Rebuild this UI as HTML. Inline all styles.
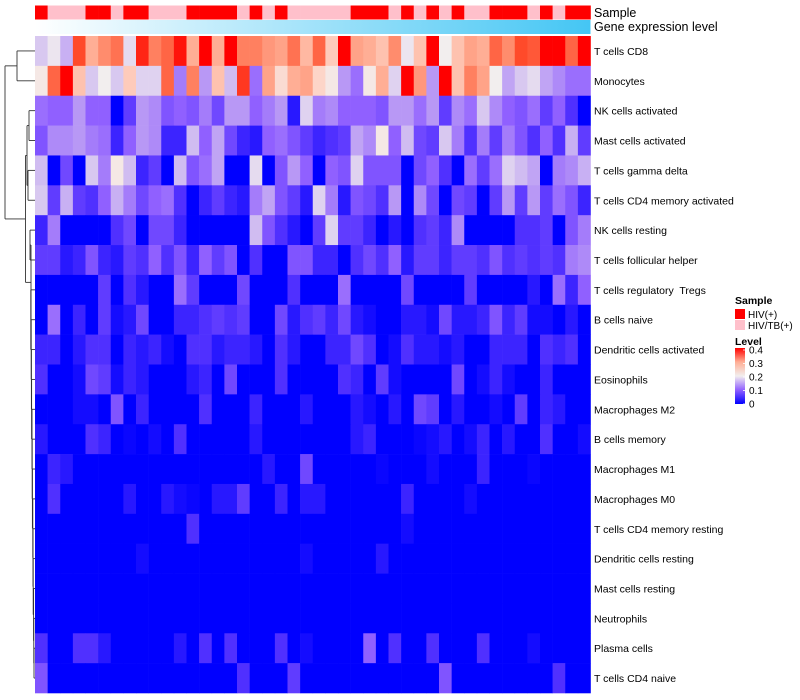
<!DOCTYPE html>
<html><head><meta charset="utf-8"><style>
html,body{margin:0;padding:0;background:#fff;}
svg{display:block;font-family:"Liberation Sans",sans-serif;}
svg text{white-space:pre;}
</style></head><body>
<svg id="chart" width="800" height="700"></svg>
<script>
const rowLabels = ["T cells CD8","Monocytes","NK cells activated","Mast cells activated","T cells gamma delta","T cells CD4 memory activated","NK cells resting","T cells follicular helper","T cells regulatory  Tregs","B cells naive","Dendritic cells activated","Eosinophils","Macrophages M2","B cells memory","Macrophages M1","Macrophages M0","T cells CD4 memory resting","Dendritic cells resting","Mast cells resting","Neutrophils","Plasma cells","T cells CD4 naive"];
const sampleGroups = "RPPPRRPRRPPPRRRRPRPRPPPPPRRRPRPRPRPPRRRPRPRR".split("");
const legendTicks = [0,0.1,0.2,0.3,0.4];
const legendTickLabels = ["0","0.1","0.2","0.3","0.4"];
const values = [
[0.16,0.19,0.14,0.36,0.28,0.31,0.33,0.18,0.38,0.32,0.34,0.39,0.28,0.4,0.28,0.4,0.32,0.32,0.3,0.29,0.33,0.27,0.34,0.25,0.4,0.29,0.28,0.26,0.31,0.19,0.26,0.4,0.2,0.26,0.29,0.28,0.34,0.31,0.36,0.35,0.4,0.4,0.34,0.4],
[0.21,0.34,0.4,0.26,0.16,0.2,0.16,0.25,0.17,0.17,0.34,0.1,0.32,0.12,0.26,0.15,0.37,0.09,0.29,0.23,0.28,0.29,0.24,0.21,0.12,0.09,0.21,0.28,0.17,0.4,0.3,0.12,0.4,0.26,0.32,0.29,0.2,0.13,0.16,0.18,0.13,0.11,0.09,0.09],
[0.09,0.08,0.08,0.12,0.08,0.08,0,0.05,0.12,0.11,0.07,0.08,0.07,0.1,0.06,0.12,0.12,0.08,0.1,0.12,0.02,0.17,0.1,0.11,0.08,0.08,0.08,0.07,0.12,0.12,0.09,0.12,0.05,0.11,0.09,0.16,0.11,0.08,0.07,0.09,0.05,0.08,0.04,0],
[0.07,0.11,0.11,0.12,0.1,0.09,0.03,0.08,0.12,0.11,0.03,0.03,0.15,0.08,0.13,0.06,0.03,0.02,0.08,0.09,0.07,0.05,0.03,0.04,0.05,0.13,0.11,0.21,0.08,0.15,0.06,0.05,0.16,0.1,0.04,0.1,0.05,0.1,0.07,0.04,0.08,0.04,0.14,0.05],
[0.15,0,0.06,0,0.16,0.1,0.21,0.15,0.03,0.05,0,0.15,0.07,0.09,0.13,0,0,0.18,0,0.07,0.12,0.08,0,0.08,0.07,0.17,0.07,0.07,0.07,0,0.06,0.08,0.04,0,0.09,0.05,0.09,0.17,0.15,0.13,0,0.1,0.11,0.14],
[0.16,0.05,0.14,0.05,0.04,0.08,0.14,0.1,0.06,0.08,0.09,0.04,0,0.03,0.05,0.03,0.02,0.1,0.13,0.07,0.05,0.02,0.17,0.1,0.02,0.07,0.06,0.04,0.12,0,0.11,0.06,0,0.06,0.05,0,0.05,0.12,0.05,0.12,0.05,0.09,0.07,0.03],
[0.03,0.1,0,0,0,0,0.04,0.06,0,0.06,0.06,0.03,0,0,0,0,0,0.15,0.07,0.04,0.02,0,0.05,0.17,0.05,0.05,0.03,0,0.02,0,0.04,0.05,0.03,0.11,0,0,0,0,0.04,0.04,0.05,0,0.07,0.1],
[0.05,0.05,0.02,0.03,0.07,0.03,0.02,0.05,0.04,0.08,0.04,0.07,0.03,0.08,0.05,0.07,0,0.04,0,0,0.07,0.07,0.03,0.03,0,0.04,0.06,0.04,0.08,0.02,0.05,0.05,0.03,0.05,0.05,0.04,0.07,0.04,0.05,0.04,0.05,0.04,0.1,0.11],
[0,0,0,0,0,0.05,0,0.04,0.02,0,0,0.09,0.05,0,0,0,0.06,0,0,0,0.04,0,0,0,0.09,0,0,0,0,0.06,0,0,0,0,0.05,0,0,0,0,0.02,0,0.09,0.03,0.08],
[0,0.09,0,0.03,0,0.05,0.01,0.02,0.06,0,0,0.03,0.03,0.04,0.05,0.04,0.05,0,0,0.06,0.02,0.04,0.05,0.03,0.06,0.02,0.01,0,0,0.02,0.02,0.01,0.06,0.02,0.02,0.03,0.07,0.03,0.05,0.01,0.01,0,0.02,0],
[0.03,0.03,0,0.02,0.04,0.04,0,0.03,0.02,0.03,0.01,0,0.04,0.04,0.02,0.03,0.03,0.02,0,0.04,0.02,0,0,0.03,0.03,0.06,0.04,0,0.01,0.04,0.02,0.02,0.01,0.02,0,0,0.03,0.03,0.03,0,0.04,0.03,0.04,0],
[0.04,0,0,0.01,0.06,0.05,0.01,0.03,0.02,0,0,0,0.02,0.03,0,0.06,0,0,0,0.04,0,0,0,0,0.04,0.03,0,0.05,0.01,0,0,0,0,0.06,0,0.01,0.03,0.01,0,0,0.03,0,0,0],
[0,0,0,0.01,0.01,0,0.07,0,0.03,0,0,0,0,0.04,0,0,0,0.03,0,0,0,0.02,0,0,0,0.02,0.01,0,0.02,0,0.06,0.05,0,0.02,0,0,0.01,0,0.05,0,0.03,0.02,0,0],
[0.02,0,0,0,0.04,0.03,0,0.005,0,0.01,0,0.04,0,0,0,0,0,0.02,0,0,0,0,0,0,0,0.02,0.03,0,0,0,0.005,0.01,0.02,0,0.01,0.03,0,0.02,0,0,0.04,0,0,0.01],
[0,0.03,0.02,0,0,0,0,0,0,0,0,0,0,0,0,0,0,0,0.02,0,0,0.06,0,0,0,0,0,0.005,0,0,0,0.01,0,0,0,0.03,0,0,0,0.005,0,0,0,0],
[0,0.04,0,0,0,0,0,0.02,0,0,0.02,0.01,0.005,0,0.02,0.02,0.05,0,0,0.03,0,0.02,0.02,0,0,0,0,0,0,0.03,0,0,0,0,0.01,0,0,0,0,0,0,0,0,0],
[0,0,0,0,0,0,0,0,0,0,0,0,0.04,0,0,0,0,0,0,0,0,0,0,0,0,0,0,0,0,0.01,0,0,0,0,0,0,0,0,0,0,0,0,0,0],
[0,0,0,0,0,0,0,0,0.01,0,0,0,0,0,0,0,0,0,0,0,0,0.01,0,0,0,0,0,0.02,0,0,0,0,0,0,0,0,0,0,0,0,0,0,0,0],
[0,0,0,0,0,0,0,0,0,0,0,0,0,0,0,0,0,0,0,0,0,0,0,0,0,0,0,0,0,0,0,0,0,0,0,0,0,0,0,0,0,0,0,0],
[0,0,0,0,0,0,0,0,0,0,0,0,0,0,0,0,0,0,0,0,0,0,0,0,0,0,0,0,0,0,0,0,0,0,0,0,0,0,0,0,0,0,0,0],
[0.04,0,0,0.04,0.04,0.02,0,0,0,0,0,0.02,0,0.04,0,0.04,0,0,0,0.04,0,0.01,0,0,0,0,0.08,0,0.04,0,0,0.04,0,0,0,0.04,0,0,0,0.01,0,0,0,0],
[0.07,0,0,0,0,0,0,0,0,0,0,0,0,0,0,0,0.04,0,0,0,0.05,0,0,0,0,0,0,0,0,0,0,0,0.07,0,0,0,0,0,0,0,0,0.04,0,0]
];

const NS = "http://www.w3.org/2000/svg";
const svg = document.getElementById("chart");
const X0 = 35, X1 = 590.5, Y0 = 36, Y1 = 693;
const nCols = sampleGroups.length, nRows = rowLabels.length;
const cw = (X1 - X0) / nCols, rh = (Y1 - Y0) / nRows;
const xPos = i => X0 + i * cw;
const yPos = r => Y0 + r * rh;
const stops = [[0,[0,0,255]],[0.04,[80,48,255]],[0.08,[144,96,255]],[0.12,[184,152,245]],[0.16,[216,200,240]],[0.2,[242,238,238]],[0.24,[253,213,200]],[0.28,[255,174,149]],[0.32,[255,128,96]],[0.36,[255,74,42]],[0.4,[255,0,0]]];
function color(v){
  v = Math.max(0, Math.min(0.4, v));
  for (let k = 1; k < stops.length; k++) {
    if (v <= stops[k][0]) {
      const a = stops[k-1], b = stops[k], t = (v - a[0]) / (b[0] - a[0]);
      const c = a[1].map((x, j) => Math.round(x + (b[1][j] - x) * t));
      return "rgb(" + c.join(",") + ")";
    }
  }
  return "rgb(255,0,0)";
}
function mk(tag, attrs){ const e = document.createElementNS(NS, tag); for (const k in attrs) e.setAttribute(k, attrs[k]); svg.appendChild(e); return e; }

const defs = document.createElementNS(NS, "defs");
defs.innerHTML = '<linearGradient id="geneGrad" x1="0" x2="1" y1="0" y2="0"><stop offset="0" stop-color="#ffffff"/><stop offset="1" stop-color="#44c6f4"/></linearGradient>' +
 '<linearGradient id="levelGrad" x1="0" x2="0" y1="1" y2="0"><stop offset="0" stop-color="#0000ff"/><stop offset="0.25" stop-color="#9060ff"/><stop offset="0.5" stop-color="#f2eeee"/><stop offset="0.75" stop-color="#ffae95"/><stop offset="1" stop-color="#ff0000"/></linearGradient>';
svg.appendChild(defs);

sampleGroups.forEach((g, i) => {
  const r = mk("rect", {x: xPos(i), y: 5.5, width: cw + 0.3, height: 14, fill: g === "R" ? "#ff0000" : "#ffc0cb"});
  
  
});
const gb = mk("rect", {x: X0, y: 20, width: X1 - X0, height: 14, fill: "url(#geneGrad)"});



values.forEach((row, r) => {
  row.forEach((v, i) => {
    const c = mk("rect", {x: xPos(i), y: yPos(r), width: cw + 0.3, height: rh + 0.3, fill: color(v)});
    
    
  });
});

function txt(s, x, y, size, extra){ const t = mk("text", Object.assign({x: x, y: y, "font-size": size, fill: "#000"}, extra || {})); t.textContent = s; return t; }
let t = txt("Sample", 594, 17, 12.5);


t = txt("Gene expression level", 594, 31, 12.5);


rowLabels.forEach((s, r) => {
  const l = txt(s, 594, yPos(r) + rh / 2 + 4, 10.5);
  
  
});

const yc = r => yPos(r) + rh / 2;
const segs = [];
function seg(x1,y1,x2,y2){ segs.push([x1,y1,x2,y2]); }
seg(17, yc(0), 35, yc(0)); seg(17, yc(1), 35, yc(1)); seg(17, yc(0), 17, yc(1));
const topMid = (yc(0) + yc(1)) / 2;
seg(29, yc(2), 35, yc(2)); seg(29, yc(3), 35, yc(3)); seg(29, yc(2), 29, yc(3));
seg(28, yc(4), 35, yc(4)); seg(28, yc(5), 35, yc(5)); seg(28, yc(4), 28, yc(5));
const a1 = (yc(2)+yc(3))/2, a2 = (yc(4)+yc(5))/2;
seg(27, a1, 29, a1); seg(27, a2, 28, a2); seg(27, a1, 27, a2);
const aMid = (a1 + a2) / 2;
seg(30, yc(6), 35, yc(6)); seg(30, yc(7), 35, yc(7)); seg(30, yc(6), 30, yc(7));
const b1 = (yc(6)+yc(7))/2;
let prev = yc(21), px = 34;
for (let r = 20; r >= 8; r--) {
  seg(px, yc(r), 35, yc(r));
  if (r === 20) seg(px, yc(21), 35, yc(21));
  const nx = px - (r % 3 === 0 ? 0.4 : 0.2);
  seg(px, yc(r), px, prev);
  const mid = (yc(r) + prev) / 2;
  seg(nx, mid, px, mid);
  prev = mid; px = nx;
}
const bx = 31;
seg(bx, b1, 30, b1); seg(bx, prev, px, prev); seg(bx, b1, bx, prev);
const bMid = (b1 + prev) / 2;
seg(25.5, aMid, 27, aMid); seg(25.5, bMid, bx, bMid); seg(25.5, aMid, 25.5, bMid);
const restMid = (aMid + bMid) / 2;
seg(5, topMid, 17, topMid); seg(5, restMid, 25.5, restMid); seg(5, topMid, 5, restMid);
segs.forEach(s => {
  const ln = mk("line", {x1: s[0], y1: s[1], x2: s[2], y2: s[3], stroke: "#333", "stroke-width": 0.9});
  
  
});

t = txt("Sample", 735, 304, 10.5, {"font-weight": "bold"});


let sw = mk("rect", {x: 735, y: 309, width: 10, height: 10, fill: "#ff0000"});


sw = mk("rect", {x: 735, y: 320, width: 10, height: 10, fill: "#ffc0cb"});


t = txt("HIV(+)", 748, 318, 10);


t = txt("HIV/TB(+)", 748, 329, 10);


t = txt("Level", 735, 345, 10.5, {"font-weight": "bold"});


const lvY = v => 404 - v / 0.4 * 54;
const cb = mk("rect", {x: 735, y: lvY(0.4) - 2, width: 10, height: 56, fill: "url(#levelGrad)"});


legendTicks.forEach((v, k) => {
  const tk = mk("line", {x1: 743, x2: 745, y1: lvY(v), y2: lvY(v), stroke: "#fff", "stroke-width": 0.8});
  
  
  const lb = txt(legendTickLabels[k], 749, lvY(v) + 3.5, 10);
  
  
});
</script>
</body></html>
